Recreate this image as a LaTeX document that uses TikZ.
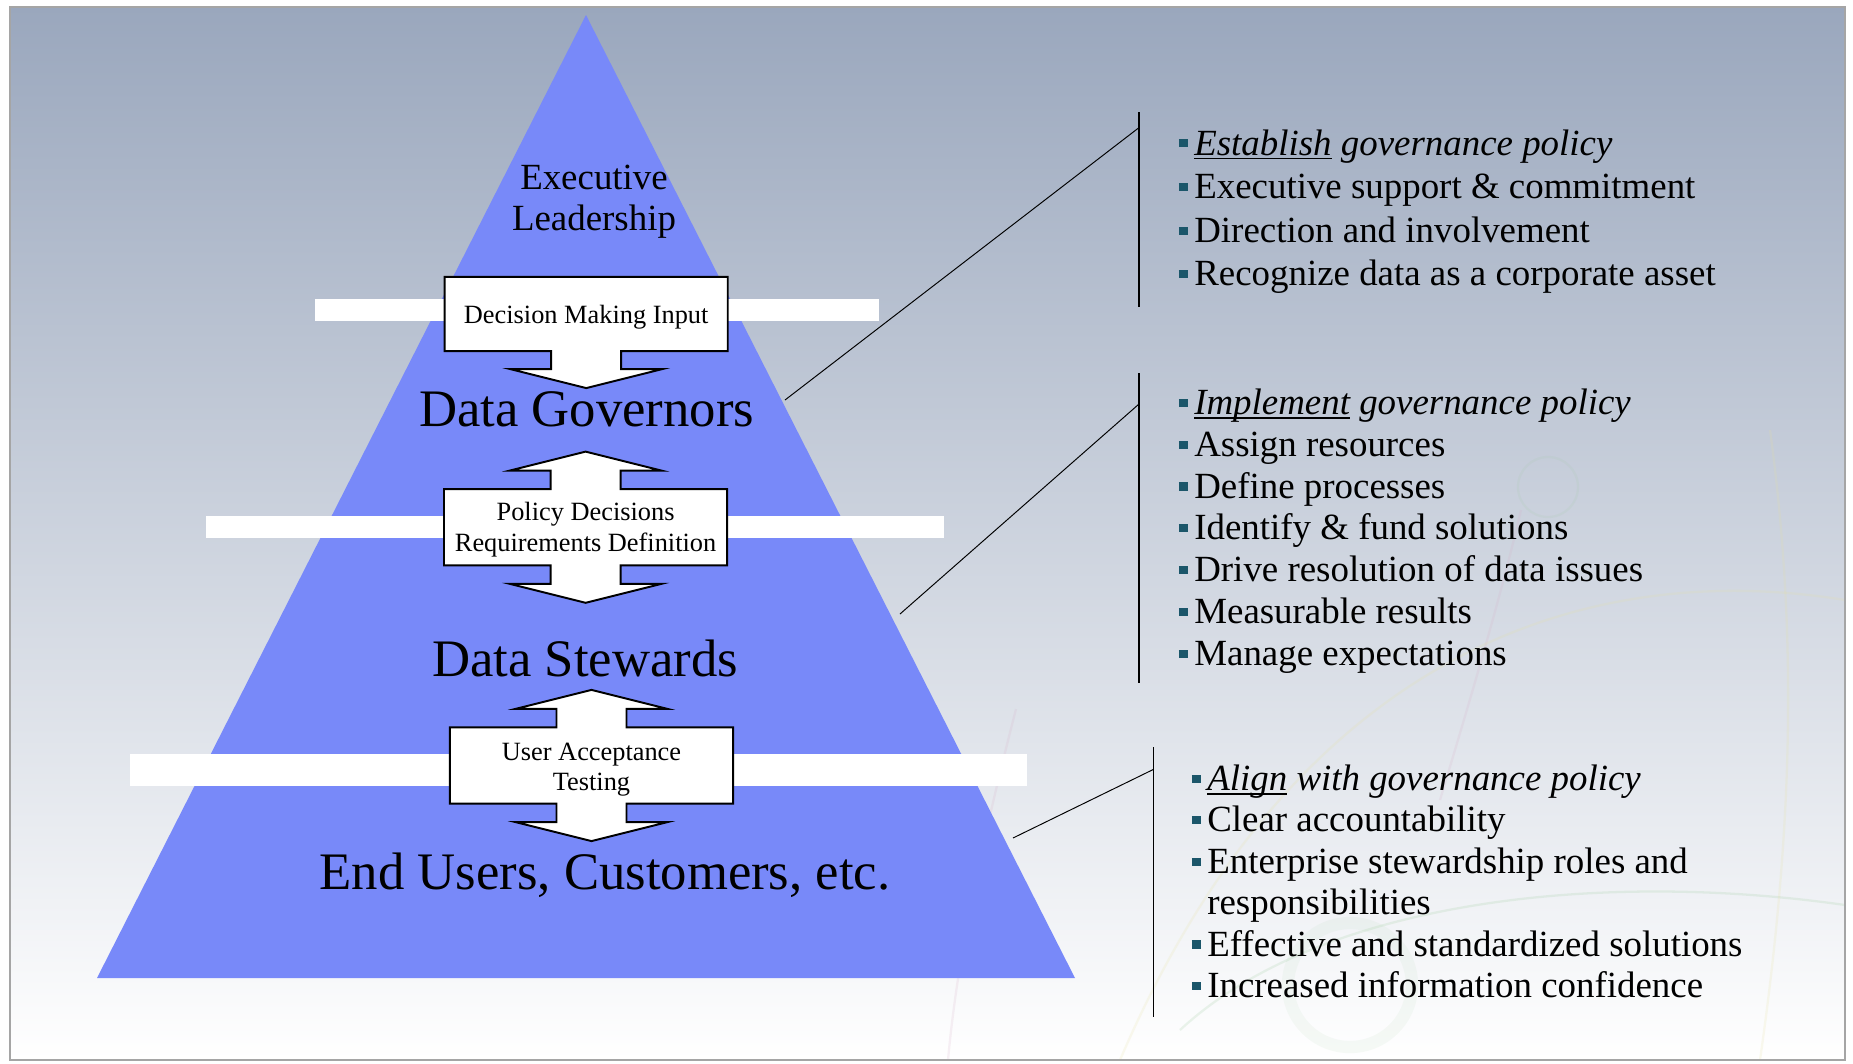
\documentclass[tikz,border=0pt]{standalone}
\usepackage{fontspec}
\setmainfont{Liberation Serif}
\usetikzlibrary{backgrounds,calc}

\definecolor{pyrblue}{RGB}{120,137,249}
\definecolor{slatetop}{RGB}{154,167,189}
\definecolor{bulletteal}{RGB}{27,86,106}
\definecolor{framegray}{RGB}{165,165,165}
\definecolor{markgreen}{RGB}{150,200,150}
\definecolor{markpink}{RGB}{215,175,200}
\definecolor{markyellow}{RGB}{230,225,160}

\newcommand{\bul}{\textcolor{bulletteal}{\rule[4.3pt]{5pt}{4.6pt}}\hspace{3.8pt}}
\newcommand{\nobul}{\hphantom{\bul}}
\newcommand{\ulit}[1]{\setbox0=\hbox{\itshape #1}\rlap{\rule[-2.4pt]{\wd0}{0.8pt}}\box0{}}

\begin{document}
\begin{tikzpicture}[x=0.02cm, y=-0.02cm,
  tierlabel/.style={anchor=base, inner sep=0pt, font=\fontsize{30}{34}\selectfont},
  flowbox/.style={minimum width=5.65cm, minimum height=1.51cm, inner sep=0pt,
                  align=center, font=\fontsize{15}{17.4}\selectfont},
  flowline/.style={draw=black, fill=white, line width=1.1pt, line join=miter},
  listitem/.style={anchor=base west, inner sep=0pt, font=\fontsize{21}{24}\selectfont},
  tieline/.style={line width=0.55pt},
  listbar/.style={line width=0.8pt},
  watermark/.style={line width=1.3pt, opacity=0.18}]

  % tier labels
  \node[align=center, font=\fontsize{21}{23.3}\selectfont] (exec) at (594,202) {Executive\\Leadership};
  \node[tierlabel] (gov) at (586.6,426.7) {Data Governors};
  \node[tierlabel] (stw) at (585,676.7) {Data Stewards};
  \node[tierlabel] (usr) at (605,889.3) {End Users, Customers, etc.};

  % boxes between the tiers
  \node[flowbox, minimum height=1.47cm] (dmi) at (586.2,314) {\rule{0pt}{14.5pt}Decision Making Input};
  \node[flowbox] (pol) at (585.6,527.2) {\rule{0pt}{13pt}Policy Decisions\\Requirements Definition};
  \node[flowbox] (uat) at (591.5,765.5) {\rule{0pt}{14.5pt}User Acceptance\\Testing};

  % background, pyramid, bands and arrow outlines
  \begin{scope}[on background layer]
    \fill[white] (0,0) rectangle (1853,1063);
    \shade[top color=slatetop, bottom color=white] (10,7) rectangle (1845,1060);
    \begin{scope}
      \clip (10,7) rectangle (1845,1060);
      % faint watermark arcs
      \draw[watermark, markpink] (1016,709) .. controls (985,830) and (958,950) .. (948,1060);
      \draw[watermark, markpink] (1521,510) .. controls (1500,600) and (1470,700) .. (1440,800);
      \draw[watermark, markgreen] (1180,1030) .. controls (1320,900) and (1600,870) .. (1845,905);
      \draw[watermark, markgreen, line width=7pt, opacity=0.08] (1350,985) circle (62);
      \draw[watermark, markgreen, opacity=0.1] (1548,487) circle (30);
      \draw[watermark, markyellow] (1120,1060) .. controls (1300,640) and (1600,560) .. (1845,600);
      \draw[watermark, markyellow] (1770,430) .. controls (1800,650) and (1790,850) .. (1760,1060);
    \end{scope}
    \draw[framegray, line width=0.8pt] (10,7) rectangle (1845,1060);
    \fill[pyrblue] (586,15) -- (1075,978) -- (97,978) -- cycle;
    \fill[white] (314.5,299) rectangle (878.6,321);
    \fill[white] (206,516) rectangle (944,538);
    \fill[white] (130,754) rectangle (1027,786);
    \path[flowline] (dmi.north west) -- (dmi.north east) -- (dmi.south east)
      -- ($(dmi.south)+(35,0)$) -- ++(0,18) -- ++(41,0) -- ++(-76,19) -- ++(-76,-19)
      -- ++(41,0) -- ++(0,-18) -- (dmi.south west) -- cycle;
    \path[flowline] (pol.north west) -- ($(pol.north)+(-35,0)$) -- ++(0,-18.5) -- ++(-41,0)
      -- ++(76,-19) -- ++(76,19) -- ++(-41,0) -- ++(0,18.5) -- (pol.north east) -- (pol.south east)
      -- ($(pol.south)+(35,0)$) -- ++(0,18.5) -- ++(41,0) -- ++(-76,19) -- ++(-76,-19)
      -- ++(41,0) -- ++(0,-18.5) -- (pol.south west) -- cycle;
    \path[flowline] (uat.north west) -- ($(uat.north)+(-35,0)$) -- ++(0,-18.5) -- ++(-41,0)
      -- ++(76,-19) -- ++(76,19) -- ++(-41,0) -- ++(0,18.5) -- (uat.north east) -- (uat.south east)
      -- ($(uat.south)+(35,0)$) -- ++(0,18.5) -- ++(41,0) -- ++(-76,19) -- ++(-76,-19)
      -- ++(41,0) -- ++(0,-18.5) -- (uat.south west) -- cycle;
  \end{scope}

  % lists on the right
  \foreach \txt [count=\i from 0] in {
      {\bul\ulit{Establish} \textit{governance policy}},
      {\bul Executive support \& commitment},
      {\bul Direction and involvement},
      {\bul Recognize data as a corporate asset}}
    \node[listitem] (est-\i) at (1178.5,{155+43.6*\i}) {\txt};
  \foreach \txt [count=\i from 0] in {
      {\bul\ulit{Implement} \textit{governance policy}},
      {\bul Assign resources},
      {\bul Define processes},
      {\bul Identify \& fund solutions},
      {\bul Drive resolution of data issues},
      {\bul Measurable results},
      {\bul Manage expectations}}
    \node[listitem] (imp-\i) at (1178.5,{414.5+41.8*\i}) {\txt};
  \foreach \txt [count=\i from 0] in {
      {\bul\ulit{Align} \textit{with governance policy}},
      {\bul Clear accountability},
      {\bul Enterprise stewardship roles and},
      {\nobul responsibilities},
      {\bul Effective and standardized solutions},
      {\bul Increased information confidence}}
    \node[listitem] (aln-\i) at (1191.5,{790.5+41.4*\i}) {\txt};

  % bars and ties to the tiers
  \coordinate (gov-edge) at (785,400);
  \coordinate (stw-edge) at (900,614);
  \coordinate (usr-edge) at (1013,838);
  \coordinate (bar1-top) at (1139,112);
  \coordinate (bar1-end) at (1139,307);
  \coordinate (bar2-top) at (1139,373);
  \coordinate (bar2-end) at (1139,683);
  \coordinate (bar3-top) at (1153.5,747);
  \coordinate (bar3-end) at (1153.5,1016.5);
  \draw[listbar] (bar1-top) -- (bar1-end);
  \draw[listbar] (bar2-top) -- (bar2-end);
  \draw[listbar] (bar3-top) -- (bar3-end);
  \draw[tieline] (gov-edge) -- ($(bar1-top)!0.08!(bar1-end)$);
  \draw[tieline] (stw-edge) -- ($(bar2-top)!0.1!(bar2-end)$);
  \draw[tieline] (usr-edge) -- ($(bar3-top)!0.083!(bar3-end)$);
\end{tikzpicture}
\end{document}
